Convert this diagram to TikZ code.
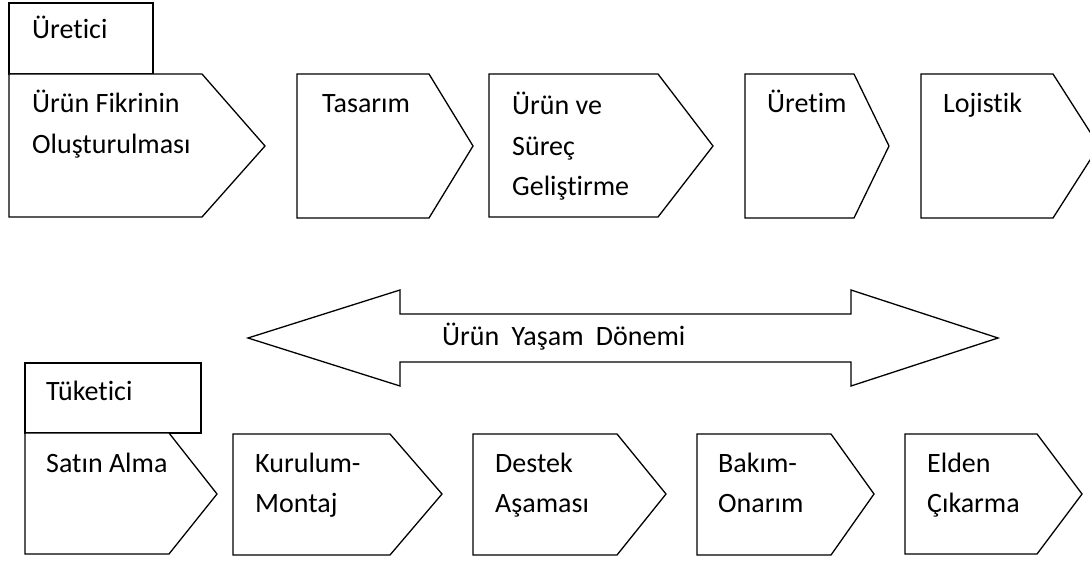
\documentclass[tikz,border=0pt]{standalone}
\usepackage{fontspec}
\setmainfont[Ligatures=NoCommon]{Carlito}
\begin{document}
\begin{tikzpicture}[x=1pt,y=-1pt,
  shp/.style={draw=black,line width=1.3pt,line join=miter,fill=white},
  lbl/.style={anchor=base west,inner sep=0pt,align=left,font={\fontsize{28}{40.5}\selectfont}}]
\useasboundingbox (0,0) rectangle (1090,561);
\clip (0,0) rectangle (1090,561);
% top row
\draw[shp] (9,3) rectangle (153,74);
\draw[shp] (9,74) -- (202,74) -- (265,146) -- (202,217) -- (9,217) -- cycle;
\draw[shp] (297,74) -- (429,74) -- (473,146) -- (429,218) -- (297,218) -- cycle;
\draw[shp] (489,74) -- (658,74) -- (713,146) -- (658,217) -- (489,217) -- cycle;
\draw[shp] (745,74) -- (854,74) -- (889,146) -- (854,218) -- (745,218) -- cycle;
\draw[shp] (921,74) -- (1053,74) -- (1099,146) -- (1053,218) -- (921,218) -- cycle;
\node[lbl] (uretici) at (32,39) {Üretici};
\node[lbl] (fikir) at (32,153.5) {Ürün Fikrinin\\Oluşturulması};
\node[lbl] (tasarim) at (322,113) {Tasarım};
\node[lbl] (gelistirme) at (512,196) {Ürün ve\\Süreç\\Geliştirme};
\node[lbl] (uretim) at (767,113) {Üretim};
\node[lbl] (lojistik) at (943,113) {Lojistik};
% double arrow
\draw[shp] (248,338) -- (400,290) -- (400,314) -- (851,314) -- (851,290) -- (998,338)
  -- (851,386) -- (851,362) -- (400,362) -- (400,386) -- cycle;
\node[lbl] (donem) at (442,345) {Ürün\hspace{6pt} Yaşam\hspace{6pt} Dönemi};
% bottom row
\draw[shp] (25,363) rectangle (201,433);
\draw[shp] (25,433) -- (169,433) -- (217,494) -- (169,554) -- (25,554) -- cycle;
\draw[shp] (233,434) -- (390,434) -- (442,494) -- (390,555) -- (233,555) -- cycle;
\draw[shp] (473,434) -- (617,434) -- (666,494) -- (617,555) -- (473,555) -- cycle;
\draw[shp] (697,434) -- (831,434) -- (874,494) -- (831,555) -- (697,555) -- cycle;
\draw[shp] (905,434) -- (1037,434) -- (1082,494) -- (1037,554) -- (905,554) -- cycle;
\node[lbl] (tuketici) at (46,400) {Tüketici};
\node[lbl] (satin) at (46,472) {Satın Alma};
\node[lbl] (kurulum) at (255,512.5) {Kurulum-\\Montaj};
\node[lbl] (destek) at (495,512.5) {Destek\\Aşaması};
\node[lbl] (bakim) at (718,512.5) {Bakım-\\Onarım};
\node[lbl] (elden) at (927,512.5) {Elden\\Çıkarma};
\end{tikzpicture}
\end{document}
